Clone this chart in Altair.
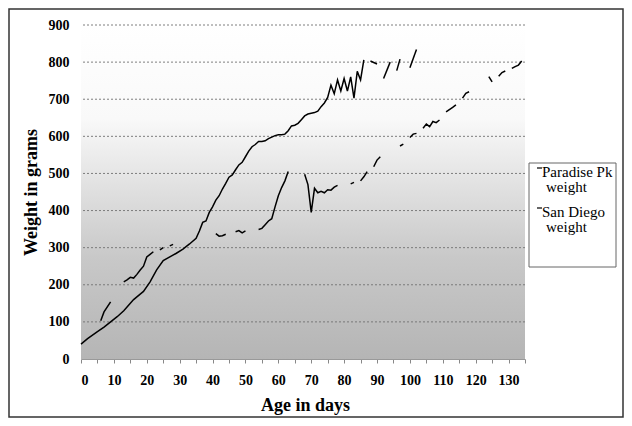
import altair as alt
import pandas as pd

# ---- data (None = no measurement -> gap in line) ----
pp_days = [0, 2, 5, 7, 9, 11, 13, 15, 16, 18, 19, 21, 23, 25, 27, 29, 31, 33, 35, 36,
           37, 38, 39, 40, 41, 42, 43, 44, 45, 46, 47, 48, 49, 50, 51, 52, 53, 54, 55, 56,
           57, 58, 59, 60, 61, 62, 63, 64, 65, 66, 67, 68, 69, 70, 71, 72, 73, 74, 75, 76,
           77, 78, 79, 80, 81, 82, 83, 84, 85, 86, 87, 88, 90, 91, 92, 94, 95, 96, 97, 98,
           100, 102]
pp_weight = [40, 55, 74, 86, 100, 114, 130, 150, 160, 175, 182, 208, 240, 265, 275, 285, 296, 310, 325, 345,
             368, 372, 395, 410, 428, 440, 458, 473, 490, 496, 510, 523, 530, 545, 560, 572, 578, 586, 586, 588,
             594, 598, 602, 604, 604, 606, 615, 628, 630, 635, 645, 655, 660, 662, 664, 668, 680, 690, 705, 738,
             715, 752, 722, 756, 722, 760, 703, 775, 752, 806, None, 803, 795, None, 756, 800, None, 777, 808, None,
             785, 834]

sd_days = [6, 7, 9, 10, 13, 14, 15, 16, 17, 18, 19, 20, 21, 22, 23, 24, 25, 26, 27, 28, 29,
           41, 42, 43, 44, 45, 47, 48, 49, 50, 51, 54, 55, 56, 57, 58, 59, 60, 61, 62, 63, 64,
           68, 69, 70, 71, 72, 73, 74, 75, 76, 77, 78, 79, 82, 83, 84, 85, 86, 87, 88,
           89, 90, 91, 92, 97, 98, 99, 100, 101, 102, 103, 104, 105, 106, 107, 108, 109,
           110, 111, 112, 113, 114, 115, 116, 117, 118, 119, 124, 125, 126, 127, 128, 129,
           130, 131, 132, 133, 134]
sd_weight = [103, 127, 154, None, 208, 213, 220, 218, 228, 240, 250, 275, 282, 289, None, 294, 300, None, 305, 309, None,
             338, 331, 332, 336, None, 343, 346, 340, 345, None, 349, 352, 362, 372, 378, 410, 440, 462, 480, 505, None,
             498, 470, 395, 460, 448, 452, 448, 456, 455, 463, 468, None, 472, 476, None, 480, 491, 505, None,
             518, 536, 545, None, 574, 579, None, 597, 606, 608, None, 622, 633, 626, 640, 637, 644, None,
             666, 672, 678, 685, None, 703, 716, 720, None, 761, 747, None, 762, 772, 776, None,
             783, 788, 792, 803, 783]

series_names = ["Paradise Pk weight", "San Diego weight"]
legend_lines = ["Paradise Pk", "weight", "San Diego", "weight"]
y_ticks = [0, 100, 200, 300, 400, 500, 600, 700, 800, 900]
x_ticks = list(range(0, 136, 5))

W, H = 444, 334


def build(name, days, weights):
    rows, seg = [], 0
    for d, w in zip(days, weights):
        if w is None:
            seg += 1
            continue
        rows.append({"day": d, "weight": w, "series": name, "seg": f"{name}-{seg}"})
    return rows


df = pd.DataFrame(build(series_names[0], pp_days, pp_weight) + build(series_names[1], sd_days, sd_weight))
grid_df = pd.DataFrame({"weight": y_ticks[1:]})
one = pd.DataFrame({"a": [0]})
legend_df = pd.DataFrame({
    "label": legend_lines,
    "ty": [147, 162, 187, 202],
    "tx": [461, 465, 461, 465],
})
dash_df = pd.DataFrame({"ty": [143, 183]})

FONT = "Liberation Serif"

xs = alt.Scale(domain=[0, 135], nice=False, zero=False)
ys = alt.Scale(domain=[0, 900], nice=False)

y_axis = alt.Axis(values=y_ticks, title="Weight in grams", labelOverlap=False,
                  labelFont=FONT, labelFontSize=14, labelFontWeight="bold", labelColor="black",
                  labelPadding=12, tickSize=0, domainColor="#aaa", domainDash=[2, 2],
                  titleFont=FONT, titleFontSize=18, titleFontWeight="bold", titleColor="black",
                  titleX=-50, titleY=167, titleAngle=-90, titleAlign="center",
                  titleBaseline="middle", grid=False)
x_axis = alt.Axis(values=x_ticks, title="Age in days",
                  labelExpr="datum.value % 10 == 0 ? datum.label : ''",
                  labelOverlap=False,
                  labelFont=FONT, labelFontSize=14, labelFontWeight="bold", labelColor="black",
                  labelPadding=10, tickSize=4, tickColor="#888", domainColor="#999",
                  titleFont=FONT, titleFontSize=18, titleFontWeight="bold", titleColor="black",
                  titleX=224, titleY=46, titleBaseline="middle", grid=False)

bg = alt.Chart(one).mark_rect(
    fill=alt.LinearGradient(
        gradient="linear",
        stops=[
            alt.GradientStop(color="#ffffff", offset=0),
            alt.GradientStop(color="#f9f9f9", offset=0.28),
            alt.GradientStop(color="#dfdfdf", offset=0.5),
            alt.GradientStop(color="#c8c8c8", offset=0.7),
            alt.GradientStop(color="#b5b5b5", offset=1),
        ],
        x1=0, x2=0, y1=0, y2=1,
    ),
    stroke=None,
).encode(x=alt.value(0), x2=alt.value(W), y=alt.value(0), y2=alt.value(H))

grid = alt.Chart(grid_df).mark_rule(color="#707070", strokeDash=[2, 2], strokeWidth=0.9).encode(
    y=alt.Y("weight:Q", scale=ys, axis=y_axis)
)

lines = alt.Chart(df).mark_line(color="black", strokeWidth=1.5).encode(
    x=alt.X("day:Q", scale=xs, axis=x_axis),
    y=alt.Y("weight:Q", scale=ys, axis=y_axis),
    detail="seg:N",
)

legend_box = alt.Chart(one).mark_rect(fill="white", stroke="#666", strokeWidth=1).encode(
    x=alt.value(448), x2=alt.value(535), y=alt.value(138), y2=alt.value(242)
)
legend_text = alt.Chart(legend_df).mark_text(
    font=FONT, fontSize=15, align="left", baseline="middle", color="black"
).encode(x=alt.X("tx:Q", scale=None), y=alt.Y("ty:Q", scale=None), text="label:N")
legend_dash = alt.Chart(dash_df).mark_rule(color="black", strokeWidth=1.2).encode(
    x=alt.value(456), x2=alt.value(461), y=alt.Y("ty:Q", scale=None)
)

frame = alt.Chart(one).mark_rect(fill=None, stroke="#333", strokeWidth=1.5).encode(
    x=alt.value(-72), x2=alt.value(W + 98), y=alt.value(-16), y2=alt.value(H + 58)
)

chart = alt.layer(bg, grid, lines, legend_box, legend_text, legend_dash, frame).properties(
    width=W, height=H,
    padding={"left": 73, "top": 17, "right": 99, "bottom": 59},
    autosize=alt.AutoSizeParams(type="none"),
    background="white",
).configure(font=FONT).configure_axis(labelFont=FONT, titleFont=FONT).configure_text(
    font=FONT
).configure_view(stroke=None)

chart.save("out.html", embed_options={"renderer": "svg", "actions": False})
